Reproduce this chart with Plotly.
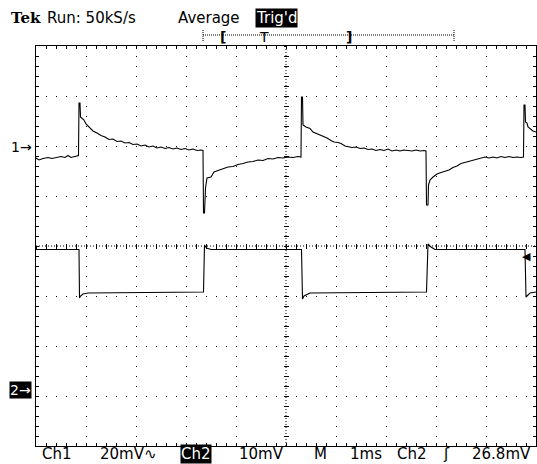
import plotly.graph_objects as go

# ---------------- data (time in ms, voltage in mV) ----------------
ch1_t = [0.00, 0.06, 0.14, 0.24, 0.32, 0.42, 0.50, 0.58, 0.64, 0.70, 0.76, 0.85,
         0.86, 0.88, 0.89, 0.96, 1.00, 1.06, 1.14, 1.22, 1.30, 1.38, 1.46, 1.54,
         1.62, 1.70, 1.78, 1.86, 1.94, 2.02, 2.10, 2.18, 2.26, 2.34, 2.42, 2.50,
         2.58, 2.66, 2.74, 2.82, 2.90, 2.98, 3.06, 3.14, 3.22, 3.30, 3.34,
         3.35, 3.37, 3.39, 3.42, 3.50, 3.56, 3.64, 3.74, 3.84, 3.94, 4.04, 4.14,
         4.24, 4.34, 4.44, 4.54, 4.64, 4.74, 4.84, 4.94, 5.04, 5.14, 5.24, 5.30,
         5.31, 5.33, 5.34, 5.40, 5.48, 5.54, 5.62, 5.68, 5.76, 5.82, 5.90, 5.96,
         6.04, 6.10, 6.18, 6.24, 6.32, 6.40, 6.48, 6.56, 6.64, 6.72, 6.80, 6.88,
         6.96, 7.04, 7.12, 7.20, 7.28, 7.36, 7.44, 7.52, 7.60, 7.68, 7.76, 7.80,
         7.81, 7.84, 7.85, 7.88, 7.94, 8.02, 8.10, 8.18, 8.26, 8.34, 8.42, 8.50,
         8.58, 8.66, 8.74, 8.82, 8.90, 8.98, 9.06, 9.14, 9.22, 9.30, 9.38, 9.46,
         9.54, 9.62, 9.70, 9.75,
         9.76, 9.78, 9.79, 9.82, 9.84, 9.90, 9.94, 10.00]
ch1_mv = [-4.4, -5.2, -4.6, -4.2, -4.6, -4.0, -3.8, -4.2, -3.4, -4.2, -3.8, -3.4,
          17.6, 17.6, 12.0, 10.8, 9.2, 8.0, 6.4, 5.6, 4.6, 4.0, 3.0, 3.2,
          2.2, 2.4, 1.6, 1.8, 1.0, 1.2, 0.4, 0.8, 0.0, 0.4, -0.4, 0.0,
          -0.6, -0.2, -0.8, -0.4, -1.0, -0.6, -1.2, -0.8, -1.4, -1.2, -1.4,
          -26.4, -26.4, -16.4, -12.4, -12.0, -10.0, -9.4, -8.8, -8.0, -7.8, -7.0, -6.6,
          -6.0, -5.8, -5.2, -5.4, -4.6, -4.8, -4.2, -4.4, -4.0, -4.2, -3.8, -4.0,
          20.0, 20.0, 8.8, 8.0, 7.4, 6.0, 5.4, 4.8, 4.2, 3.6, 2.6, 2.0,
          1.8, 1.4, 0.4, 0.2, -0.2, 0.0, -0.6, -0.4, -1.0, -0.8, -1.4, -1.0,
          -1.4, -0.8, -1.6, -1.2, -1.6, -1.2, -1.4, -1.6, -1.2, -1.6, -1.4, -1.6,
          -23.2, -23.2, -15.2, -13.2, -12.0, -10.8, -10.2, -9.6, -9.2, -8.2, -7.6, -6.6,
          -6.2, -5.8, -5.2, -5.0, -4.6, -4.0, -4.4, -4.0, -4.4, -3.8, -4.2, -3.8,
          -4.2, -4.0, -4.2, -4.0,
          16.8, 16.8, 10.0, 9.6, 8.0, 7.2, 6.4, 6.0]

ch2_t = [0.00, 0.86, 0.87, 0.89, 0.94, 1.04, 3.35, 3.37, 3.41, 3.50,
         5.31, 5.33, 5.36, 5.48, 7.81, 7.84, 7.90, 7.98, 9.78, 9.80, 9.88, 10.00]
ch2_mv = [28.1, 28.1, 18.4, 18.8, 19.2, 19.4, 19.6, 29.0, 28.4, 28.1,
          28.1, 18.2, 18.8, 19.4, 19.6, 29.2, 28.6, 28.1, 28.1, 18.6, 19.4, 19.6]

# scope settings / labels
header_labels = ["Run: 50kS/s", "Average", "Trig'd"]
footer_labels = ["Ch1", "20mV\u223f", "Ch2", "10mV", "M", "1ms", "Ch2", "\u0283", "26.8mV"]
CH1_VDIV, CH2_VDIV = 20.0, 10.0      # mV per division
CH1_POS, CH2_POS = 1.98, -2.88        # ground marker position in divisions
TRIG_MV = 26.8

# ---------------- layout geometry ----------------
W, H = 537, 464
L, R, T, B = 36, 1, 46, 18
PW, PH = W - L - R, H - T - B


def px(x):
    return (x - L) / PW


def py(y):
    return (H - B - y) / PH


FONT = "DejaVu Sans"

ch1_y = [CH1_POS + v / CH1_VDIV for v in ch1_mv]
ch2_y = [CH2_POS + v / CH2_VDIV for v in ch2_mv]

fig = go.Figure()
fig.add_trace(go.Scatter(x=ch1_t, y=ch1_y, mode="lines",
                         line=dict(color="black", width=1.1), showlegend=False, hoverinfo="skip"))
fig.add_trace(go.Scatter(x=ch2_t, y=ch2_y, mode="lines",
                         line=dict(color="black", width=1.1), showlegend=False, hoverinfo="skip"))
# dummy traces to register centre-tick axes
for xa, ya in [("x2", "y"), ("x3", "y"), ("x", "y2"), ("x", "y3")]:
    fig.add_trace(go.Scatter(x=[None], y=[None], xaxis=xa, yaxis=ya, showlegend=False,
                             hoverinfo="skip"))

common = dict(showline=True, mirror="allticks", linecolor="black", linewidth=1,
              showgrid=True, gridcolor="black", griddash="1px,9px", gridwidth=1,
              tickmode="linear", tick0=0, dtick=1, ticks="inside", ticklen=3,
              tickcolor="black", tickwidth=1, showticklabels=False, zeroline=False,
              minor=dict(tickmode="linear", tick0=0, dtick=0.2, ticks="inside", ticklen=3,
                         tickcolor="black", tickwidth=1, showgrid=False),
              fixedrange=True)

centre = dict(tickmode="linear", tick0=0, dtick=0.2, ticklen=2, tickcolor="black",
              tickwidth=1, showticklabels=False, showgrid=False, zeroline=False,
              showline=False, anchor="free", position=0.5, fixedrange=True)

fig.update_layout(
    width=W, height=H, autosize=False,
    margin=dict(l=L, r=R, t=T, b=B, pad=0),
    paper_bgcolor="white", plot_bgcolor="white",
    xaxis=dict(range=[0, 10], **common),
    yaxis=dict(range=[-4, 4], **common),
    xaxis2=dict(range=[0, 10], overlaying="x", ticks="outside", **centre),
    xaxis3=dict(range=[0, 10], overlaying="x", ticks="inside", **centre),
    yaxis2=dict(range=[-4, 4], overlaying="y", ticks="outside", **centre),
    yaxis3=dict(range=[-4, 4], overlaying="y", ticks="inside", **centre),
    font=dict(family=FONT, color="black", size=15),
)

shapes = [
    # dense dotted centre lines
    dict(type="line", xref="x", yref="paper", x0=5, x1=5, y0=0, y1=1,
         line=dict(color="black", width=1, dash="1px,2px")),
    dict(type="line", xref="paper", yref="y", x0=0, x1=1, y0=0, y1=0,
         line=dict(color="black", width=1, dash="1px,2px")),
    # record-length bar in header
    dict(type="line", xref="paper", yref="paper", x0=px(203), x1=px(454), y0=py(35), y1=py(35),
         line=dict(color="black", width=1, dash="1px,1px")),
    dict(type="line", xref="paper", yref="paper", x0=px(203), x1=px(203), y0=py(30), y1=py(41),
         line=dict(color="black", width=1, dash="1px,1px")),
    dict(type="line", xref="paper", yref="paper", x0=px(454), x1=px(454), y0=py(30), y1=py(41),
         line=dict(color="black", width=1, dash="1px,1px")),
]
fig.update_layout(shapes=shapes)

ann = []


def label(text, x, y, anchor="left", inv=False, size=15, family=FONT, bold=False):
    t = f"<b>{text}</b>" if bold else text
    ann.append(dict(text=t, xref="paper", yref="paper", x=px(x), y=py(y),
                    xanchor=anchor, yanchor="middle", showarrow=False,
                    font=dict(family=family, size=size, color="white" if inv else "black"),
                    bgcolor="black" if inv else None, borderpad=0))


label("Tek", 10, 18, size=15, family="DejaVu Serif", bold=True)
label(header_labels[0], 46, 18)
label(header_labels[1], 177, 18)
label(header_labels[2], 255, 18, inv=True)
label("[", 223, 37, anchor="center", size=14, bold=True)
label("T", 264, 37, anchor="center", size=14)
label("]", 349, 37, anchor="center", size=14, bold=True)

foot_x = [41, 99, 180, 238, 313, 349, 396, 442, 471]
for i, (txt, fx) in enumerate(zip(footer_labels, foot_x)):
    label(txt, fx, 454, inv=(i == 2))

# channel ground markers and trigger level marker
ann.append(dict(text="1\u2192", xref="paper", yref="y", x=px(33), y=CH1_POS, xanchor="right",
                yanchor="middle", showarrow=False, font=dict(family=FONT, size=14, color="black"),
                borderpad=0))
ann.append(dict(text="2\u2192", xref="paper", yref="y", x=px(32), y=CH2_POS, xanchor="right",
                yanchor="middle", showarrow=False, font=dict(family=FONT, size=14, color="white"),
                bgcolor="black", borderpad=0))
ann.append(dict(text="\u25c0", xref="paper", yref="y", x=px(532), y=CH2_POS + TRIG_MV / CH2_VDIV,
                xanchor="right", yanchor="middle", showarrow=False,
                font=dict(family=FONT, size=11, color="black"), borderpad=0))
fig.update_layout(annotations=ann)

fig.write_html("out.html", config={"displayModeBar": False},
               post_script="document.body.style.margin='0';document.body.style.padding='0';")
